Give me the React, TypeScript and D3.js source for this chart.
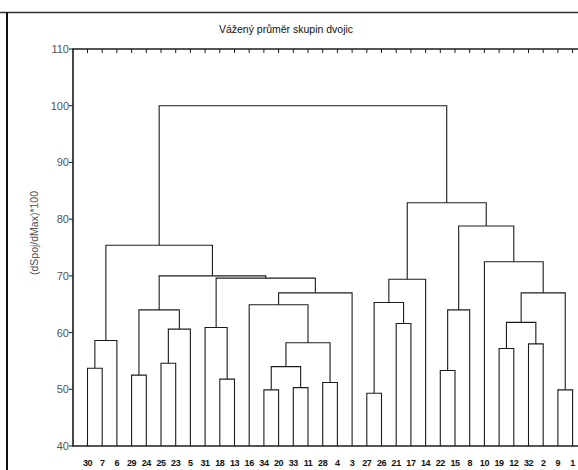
import React from "react";
import * as d3 from "d3";

// Leaf order along the horizontal axis
const leaves = [
  "30", "7", "6", "29", "24", "25", "23", "5", "31", "18", "13", "16", "34", "20", "33", "11", "28",
  "4", "3", "27", "26", "21", "17", "14", "22", "15", "8", "10", "19", "12", "32", "2", "9", "1",
];

// Merge steps: [left child, right child, linkage distance].
// A string is a leaf label, a number is the index of an earlier merge.
const merges: [string | number, string | number, number][] = [
  ["30", "7", 53.7],
  [0, "6", 58.6],
  ["29", "24", 52.5],
  ["25", "23", 54.6],
  [3, "5", 60.6],
  [2, 4, 64.0],
  ["18", "13", 51.8],
  ["31", 6, 60.9],
  ["34", "20", 49.9],
  ["33", "11", 50.3],
  [8, 9, 54.0],
  ["28", "4", 51.2],
  [10, 11, 58.2],
  ["16", 12, 64.9],
  [13, "3", 67.0],
  [7, 14, 69.6],
  [5, 15, 70.0],
  [1, 16, 75.4],
  ["27", "26", 49.3],
  ["21", "17", 61.6],
  [18, 19, 65.3],
  [20, "14", 69.4],
  ["22", "15", 53.3],
  [22, "8", 64.0],
  ["19", "12", 57.2],
  ["32", "2", 58.0],
  [24, 25, 61.8],
  ["9", "1", 49.9],
  [26, 27, 67.0],
  ["10", 28, 72.5],
  [23, 29, 78.8],
  [21, 30, 82.9],
  [17, 31, 100.0],
];

const yTicks = [40, 50, 60, 70, 80, 90, 100, 110];
const title = "Vážený průměr skupin dvojic";
const yTitle = "(dSpoj/dMax)*100";

const W = 578;
const H = 470;
const plot = { left: 73, top: 49, right: 587, bottom: 446 };

export default function App() {
  const x = d3
    .scalePoint<string>()
    .domain(leaves)
    .range([87.5, 572.6]);
  const y = d3.scaleLinear().domain([40, 110]).range([plot.bottom, plot.top]);

  // Position of every merge: x is the midpoint of its two children
  const pos: { x: number; h: number }[] = [];
  const nodeOf = (ref: string | number) =>
    typeof ref === "string" ? { x: x(ref) as number, h: 40 } : pos[ref];
  merges.forEach(([a, b, h]) => {
    const na = nodeOf(a);
    const nb = nodeOf(b);
    pos.push({ x: (na.x + nb.x) / 2, h });
  });

  const linkPaths = merges.map(([a, b, h]) => {
    const na = nodeOf(a);
    const nb = nodeOf(b);
    const p = d3.path();
    p.moveTo(na.x, y(na.h));
    p.lineTo(na.x, y(h));
    p.lineTo(nb.x, y(h));
    p.lineTo(nb.x, y(nb.h));
    return p.toString();
  });

  const ink = "#1c1c1c";

  return (
    <svg
      width={W}
      height={H}
      style={{ position: "absolute", left: 0, top: 0, background: "#fff" }}
      fontFamily="'Liberation Sans', Arial, sans-serif"
    >
      <rect x={0} y={0} width={W} height={H} fill="#fff" />
      {/* outer frame edges */}
      <line x1={0} x2={W} y1={12.5} y2={12.5} stroke="#333" strokeWidth={1.4} />
      <line x1={7} x2={7} y1={12} y2={H} stroke="#111" strokeWidth={2} />

      <text x={286} y={33} textAnchor="middle" fontSize={10.5} fill="#111">
        {title}
      </text>

      {/* plot box */}
      <path
        d={`M${plot.right},${plot.top}H${plot.left}V${plot.bottom}H${plot.right}`}
        fill="none"
        stroke={ink}
        strokeWidth={1.6}
      />

      {/* y axis */}
      {yTicks.map((t) => (
        <g key={t}>
          <line x1={plot.left - 4} x2={plot.left} y1={y(t)} y2={y(t)} stroke={ink} strokeWidth={1} />
          <text
            x={69}
            y={y(t) + 4}
            textAnchor="end"
            fontSize={11}
            fill="#555"
          >
            {t}
          </text>
        </g>
      ))}
      <text
        transform={`translate(38,${233}) rotate(-90)`}
        textAnchor="middle"
        fontSize={10.5}
        fill="#555"
      >
        {yTitle}
      </text>

      {/* top ticks at leaf positions */}
      {leaves.map((l) => (
        <line
          key={"t" + l}
          x1={x(l)}
          x2={x(l)}
          y1={plot.top}
          y2={plot.top + 4}
          stroke={ink}
          strokeWidth={1}
        />
      ))}

      {/* dendrogram links */}
      {linkPaths.map((d, i) => (
        <path key={i} d={d} fill="none" stroke={ink} strokeWidth={1.1} />
      ))}

      {/* leaf labels */}
      {leaves.map((l) => (
        <text
          key={"l" + l}
          x={x(l)}
          y={466}
          textAnchor="middle"
          fontSize={9}
          fontWeight="bold"
          fill="#111"
          letterSpacing={-0.4}
        >
          {l}
        </text>
      ))}
    </svg>
  );
}
